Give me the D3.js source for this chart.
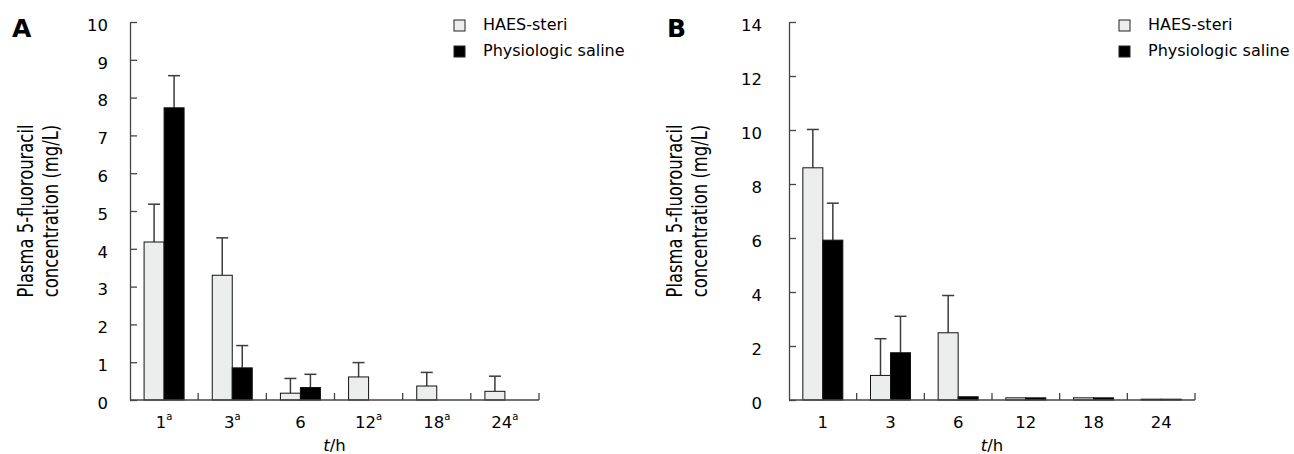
<!DOCTYPE html>
<html>
<head>
<meta charset="utf-8">
<script src="https://cdn.jsdelivr.net/npm/d3@7"></script>
<style>
  body { margin: 0; background: #fff; }
  text { font-family: "DejaVu Sans", sans-serif; fill: #000; }
</style>
</head>
<body>
<svg id="chart" width="1294" height="454"></svg>
<script>
// time points (h) and the superscript marks on panel A
let hours = ["1", "3", "6", "12", "18", "24"];
let marksA = ["a", "a", "", "a", "a", "a"];
let marksB = ["", "", "", "", "", ""];
let groups = ["HAES-steri", "Physiologic saline"];

// panel A - means and SD (upper bar only)
let haesA = [4.18, 3.30, 0.18, 0.61, 0.37, 0.23];
let haesErrA = [1.00, 0.99, 0.39, 0.38, 0.36, 0.40];
let salineA = [7.73, 0.85, 0.33, 0, 0, 0];
let salineErrA = [0.85, 0.59, 0.35, 0, 0, 0];
let ticksA = [0, 1, 2, 3, 4, 5, 6, 7, 8, 9, 10];

// panel B
let haesB = [8.60, 0.91, 2.49, 0.08, 0.08, 0.03];
let haesErrB = [1.42, 1.36, 1.38, 0, 0, 0];
let salineB = [5.92, 1.75, 0.12, 0.08, 0.08, 0.03];
let salineErrB = [1.37, 1.35, 0, 0, 0, 0];
let ticksB = [0, 2, 4, 6, 8, 10, 12, 14];

let FILLS = ["#eceeed", "#000000"];
let svg = d3.select("#chart");

function drawPanel(cfg) {
    let g = svg.append("g");

    let x = d3.scaleBand()
              .domain(hours)
              .range([cfg.left, cfg.right]);

    let y = d3.scaleLinear()
              .domain([0, cfg.yMax])
              .range([400, 22]);

    let barW = 20;

    // BARS
    let series = [
        { vals: cfg.haes, errs: cfg.haesErr, fill: FILLS[0], off: -barW },
        { vals: cfg.saline, errs: cfg.salineErr, fill: FILLS[1], off: 0 }
    ];

    series.forEach(s => {
        let rows = hours.map((h, i) => ({ h: h, v: s.vals[i], e: s.errs[i] }));
        let cx = d => x(d.h) + x.bandwidth() / 2 + s.off + barW / 2;

        // error bars first so bar edge sits on top
        let eb = g.append("g")
                  .selectAll("g")
                  .data(rows.filter(d => d.e > 0))
                  .enter().append("g")
                  .attr("stroke", "#3c3c3c")
                  .attr("stroke-width", 1.5);
        eb.append("line")
          .attr("x1", cx).attr("x2", cx)
          .attr("y1", d => y(d.v))
          .attr("y2", d => y(d.v + d.e));
        eb.append("line")
          .attr("x1", d => cx(d) - 6)
          .attr("x2", d => cx(d) + 6)
          .attr("y1", d => y(d.v + d.e))
          .attr("y2", d => y(d.v + d.e));

        g.append("g")
         .selectAll("rect")
         .data(rows.filter(d => d.v > 0))
         .enter().append("rect")
         .attr("x", d => x(d.h) + x.bandwidth() / 2 + s.off)
         .attr("y", d => y(d.v))
         .attr("width", barW)
         .attr("height", d => y(0) - y(d.v))
         .attr("fill", s.fill)
         .attr("stroke", "#111")
         .attr("stroke-width", 1);
    });

    // Y AXIS - ticks point inward
    let yAxis = g.append("g")
                 .attr("transform", "translate(" + cfg.left + ",0)")
                 .call(d3.axisLeft(y)
                         .tickValues(cfg.ticks)
                         .tickSize(-7)
                         .tickSizeOuter(0)
                         .tickPadding(cfg.tickPad));
    yAxis.selectAll("path, line").attr("stroke", "#444").attr("stroke-width", 1.3);
    yAxis.selectAll("text")
         .attr("font-size", "16.5px")
         .attr("font-family", "DejaVu Sans")
         .attr("dy", "0.5em");

    // X AXIS - baseline with ticks at category boundaries
    g.append("line")
     .attr("x1", cfg.left).attr("x2", cfg.right)
     .attr("y1", y(0)).attr("y2", y(0))
     .attr("stroke", "#444").attr("stroke-width", 1.3);

    let bounds = hours.slice(1).map(h => x(h)).concat([cfg.right]);
    g.append("g")
     .selectAll("line")
     .data(bounds)
     .enter().append("line")
     .attr("x1", d => d).attr("x2", d => d)
     .attr("y1", y(0)).attr("y2", y(0) - 7)
     .attr("stroke", "#444").attr("stroke-width", 1.3);

    let xAxis = g.append("g")
                 .attr("transform", "translate(0," + y(0) + ")")
                 .call(d3.axisBottom(x).tickSize(0).tickPadding(16));
    xAxis.select(".domain").remove();
    xAxis.selectAll("text")
         .attr("font-size", "16.5px")
         .attr("font-family", "DejaVu Sans")
         .each(function(d, i) {
             let t = d3.select(this).text(null);
             t.append("tspan").text(d);
             if (cfg.marks[i]) {
                 t.append("tspan")
                  .attr("font-size", "10px")
                  .attr("dy", "-0.75em")
                  .text(cfg.marks[i]);
             }
         });

    // axis titles
    let xt = g.append("text")
              .attr("x", (cfg.left + cfg.right) / 2)
              .attr("y", 451)
              .attr("text-anchor", "middle")
              .attr("font-size", "16.5px");
    xt.append("tspan").attr("font-style", "italic").text("t");
    xt.append("tspan").text("/h");

    // rotated title glyphs are taller than wide in the original
    let yc = 211;
    g.append("text")
     .attr("transform", "translate(" + cfg.title1 + "," + yc + ") rotate(-90) scale(1,1.25)")
     .attr("text-anchor", "middle")
     .attr("font-size", "16.4px")
     .text("Plasma 5-fluorouracil");
    g.append("text")
     .attr("transform", "translate(" + cfg.title2 + "," + yc + ") rotate(-90) scale(1,1.25)")
     .attr("text-anchor", "middle")
     .attr("font-size", "16.4px")
     .text("concentration (mg/L)");

    // panel letter
    g.append("text")
     .attr("x", cfg.letterX)
     .attr("y", 37)
     .attr("font-size", "25px")
     .attr("font-weight", "bold")
     .text(cfg.letter);

    // LEGEND
    let leg = g.append("g")
               .selectAll("g")
               .data(groups)
               .enter().append("g")
               .attr("transform", (d, i) => "translate(" + cfg.legendX + "," + (20 + i * 26) + ")");
    leg.append("rect")
       .attr("width", 11).attr("height", 11)
       .attr("fill", (d, i) => FILLS[i])
       .attr("stroke", "#222").attr("stroke-width", 1);
    leg.append("text")
       .attr("x", 29)
       .attr("y", 10)
       .attr("font-size", "16px")
       .text(d => d);
}

drawPanel({
    letter: "A", letterX: 12,
    left: 130, right: 539, yMax: 10, ticks: ticksA, tickPad: 22,
    haes: haesA, haesErr: haesErrA, saline: salineA, salineErr: salineErrA,
    marks: marksA, title1: 33, title2: 58, legendX: 454
});

drawPanel({
    letter: "B", letterX: 667,
    left: 789, right: 1195, yMax: 14, ticks: ticksB, tickPad: 27,
    haes: haesB, haesErr: haesErrB, saline: salineB, salineErr: salineErrB,
    marks: marksB, title1: 682, title2: 707, legendX: 1119
});
</script>
</body>
</html>
